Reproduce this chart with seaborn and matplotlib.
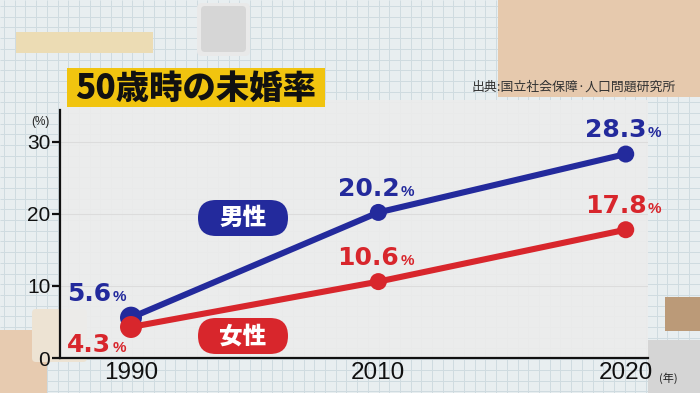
import numpy as np
import pandas as pd
import matplotlib
matplotlib.use("Agg")
import matplotlib.pyplot as plt
from matplotlib.patches import FancyBboxPatch, Rectangle
import seaborn as sns

# data
years = ["1990", "2010", "2020"]
male = [5.6, 20.2, 28.3]
female = [4.3, 10.6, 17.8]
yticks = [0, 10, 20, 30]
title = "50歳時の未婚率"
source = "出典:国立社会保障·人口問題研究所"

BLUE = "#232a9c"
RED = "#d8262c"

sns.set_theme(style="white")
plt.rcParams["font.family"] = ["Liberation Sans", "Noto Sans CJK JP", "DejaVu Sans"]
JP = ["Noto Sans CJK JP", "DejaVu Sans"]

df = pd.DataFrame({"year": years * 2,
                   "pos": list(range(len(years))) * 2,
                   "value": male + female,
                   "sex": ["男性"] * len(years) + ["女性"] * len(years)})

fig = plt.figure(figsize=(7, 3.93), dpi=100)
fig.patch.set_facecolor("#e8eef0")
inch = fig.dpi_scale_trans

# grid paper background
bg = fig.add_axes([0, 0, 1, 1], zorder=-5)
bg.set_xlim(0, 700)
bg.set_ylim(393, 0)
bg.axis("off")
bg.vlines(np.arange(4, 700, 10.7), 0, 393, color="#cfdbe0", lw=0.7)
bg.hlines(np.arange(6, 393, 10.7), 0, 700, color="#cfdbe0", lw=0.7)

# decorative blocks (pixel boxes -> inches)
def block(x0, y0, x1, y1, color, r=0.0, z=-4):
    fig.patches.append(FancyBboxPatch((x0 / 100, (393 - y1) / 100), (x1 - x0) / 100, (y1 - y0) / 100,
                                      boxstyle=f"round,pad=0,rounding_size={r}", transform=inch,
                                      facecolor=color, edgecolor="none", zorder=z))

block(16, 32, 153, 53, "#ecdcb4")
block(197, 3, 250, 56, "#e9e9e9", r=0.05)
block(201, 6, 246, 52, "#d6d6d6", r=0.04)
block(498, 0, 700, 97, "#e6c9ad")
block(0, 330, 47, 393, "#e7cbb0")
block(32, 309, 87, 362, "#ede3d3", r=0.04)
block(665, 297, 700, 331, "#bb9a78")
block(648, 340, 700, 393, "#d5d5d5")

# main chart
ax = fig.add_axes([60 / 700, 1 - 358 / 393, 588 / 700, 258 / 393])
ax.set_facecolor((0.925, 0.925, 0.925, 0.9))
sns.lineplot(data=df, x="pos", y="value", hue="sex", hue_order=["男性", "女性"],
             palette=[BLUE, RED], lw=4.4, legend=False, ax=ax, zorder=3)
for vals, col in [(male, BLUE), (female, RED)]:
    sizes = [250] + [150] * (len(vals) - 1)
    sns.scatterplot(x=list(range(len(vals))), y=vals, s=sizes, color=col,
                    edgecolor="none", legend=False, ax=ax, zorder=4)

ax.set_xlim(-0.287, 2.09)
ax.set_ylim(0, 35.8)
ax.set_yticks(yticks)
ax.set_yticklabels([str(t) for t in yticks], fontsize=15, color="#111111")
ax.set_xticks(range(len(years)))
ax.set_xticklabels(years, fontsize=17.5, color="#111111")
ax.tick_params(axis="y", direction="out", length=6, width=1.6, color="#111111", pad=1, left=True)
ax.tick_params(axis="x", length=0, pad=3)
ax.set_xlabel("")
ax.set_ylabel("")
for t in yticks[1:]:
    ax.axhline(t, color="#dcdcdc", lw=0.8, zorder=1)
for s in ["top", "right"]:
    ax.spines[s].set_visible(False)
for s in ["left", "bottom"]:
    ax.spines[s].set_color("#111111")
    ax.spines[s].set_linewidth(1.6)
ax.spines["left"].set_bounds(0, 34.4)

# value labels: number + small %
def label(x, y, val, col, dx, dy):
    ax.annotate(f"{val}", (x, y), xytext=(dx, dy), textcoords="offset points",
                ha="right", va="baseline", fontsize=18, fontweight="bold", color=col,
                family="DejaVu Sans", zorder=5)
    ax.annotate("%", (x, y), xytext=(dx + 1, dy), textcoords="offset points",
                ha="left", va="baseline", fontsize=11, fontweight="bold", color=col, zorder=5)

label(0, male[0], male[0], BLUE, -14, 12)
label(0, female[0], female[0], RED, -14, -18)
for i in range(1, len(years)):
    label(i, male[i], male[i], BLUE, 15, 12)
    label(i, female[i], female[i], RED, 15, 12)

# sex tags
for cx, cy, txt, col in [(243, 218, "男性", BLUE), (243, 336, "女性", RED)]:
    fig.patches.append(FancyBboxPatch(((cx - 45) / 100, (393 - cy - 18) / 100), 0.9, 0.36,
                                      boxstyle="round,pad=0,rounding_size=0.18", transform=inch,
                                      facecolor=col, edgecolor="none", zorder=6))
    fig.text(cx / 100, (393 - cy) / 100, txt, transform=inch, ha="center", va="center",
             fontsize=17, fontweight="black", color="white", family=JP, zorder=7)

# title, source, unit labels
fig.patches.append(Rectangle((67 / 100, (393 - 107) / 100), 2.58, 0.39, transform=inch,
                             facecolor="#f1c40f", edgecolor="none", zorder=6))
fig.text(196 / 100, (393 - 88) / 100, title, transform=inch, ha="center", va="center",
         fontsize=24, fontweight="black", color="#111111", family=JP, zorder=7)
fig.text(676 / 100, (393 - 87) / 100, source, transform=inch, ha="right", va="center",
         fontsize=9.3, color="#333333", family=JP)
fig.text(40 / 100, (393 - 122) / 100, "(%)", transform=inch, ha="center", va="center",
         fontsize=8.5, color="#222222")
fig.text(668 / 100, (393 - 378) / 100, "(年)", transform=inch, ha="center", va="center",
         fontsize=8, color="#222222", family=JP)

fig.savefig("out.png", dpi=100)
